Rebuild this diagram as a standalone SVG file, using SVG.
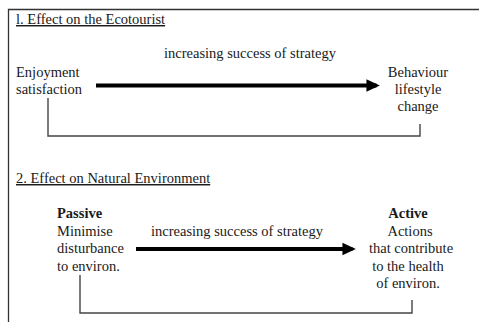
<svg xmlns="http://www.w3.org/2000/svg" width="479" height="322" viewBox="0 0 479 322">
<defs>
<style>
text{font-family:"Liberation Serif","Times New Roman",serif;font-size:14.5px;fill:#1a1a1a}
.u{text-decoration:underline}
.b{font-weight:bold}
.m{text-anchor:middle}
.frame{fill:none;stroke:#333;stroke-width:1.3}
.br{fill:none;stroke:#444;stroke-width:1.4}
.ar{stroke:#000;stroke-width:4.2;fill:none}
</style>
<marker id="ah" markerWidth="4" markerHeight="4" refX="2.4" refY="2" orient="auto" markerUnits="strokeWidth" viewBox="0 0 4 4">
<path d="M0,0.5 L3.2,2 L0,3.5 Z" fill="#000"/>
</marker>
</defs>
<rect width="479" height="322" fill="#fff"/>
<path class="frame" d="M8.5,322 V9.5 H479"/>
<g id="section1">
<text x="16" y="24" class="u">l. Effect on the Ecotourist</text>
</g>
<g id="enjoyment">
<text x="16" y="77">Enjoyment</text>
<text x="16" y="94">satisfaction</text>
</g>
<g id="behaviour">
<text x="418" y="77" class="m">Behaviour</text>
<text x="418" y="94" class="m">lifestyle</text>
<text x="418" y="111" class="m">change</text>
</g>
<g id="section2">
<text x="16" y="183" class="u">2. Effect on Natural Environment</text>
</g>
<g id="passive">
<text x="57" y="218" class="b">Passive</text>
<text x="57" y="236">Minimise</text>
<text x="57" y="253">disturbance</text>
<text x="57" y="271">to environ.</text>
</g>
<g id="active">
<text x="408" y="218" class="b m">Active</text>
<text x="410" y="236" class="m">Actions</text>
<text x="411" y="253" class="m">that contribute</text>
<text x="408" y="271" class="m">to the health</text>
<text x="408" y="288" class="m">of environ.</text>
</g>
<g id="connectors">
<line class="ar" x1="96" y1="85.5" x2="376.5" y2="85.5" marker-end="url(#ah)"/>
<text x="164" y="58">increasing success of strategy</text>
<path class="br" d="M48,98 V136 H420 V124"/>
<line class="ar" x1="136" y1="249" x2="352.5" y2="249" marker-end="url(#ah)"/>
<text x="151" y="236">increasing success of strategy</text>
<path class="br" d="M80,275 V313 H412 V300"/>
</g>
</svg>
